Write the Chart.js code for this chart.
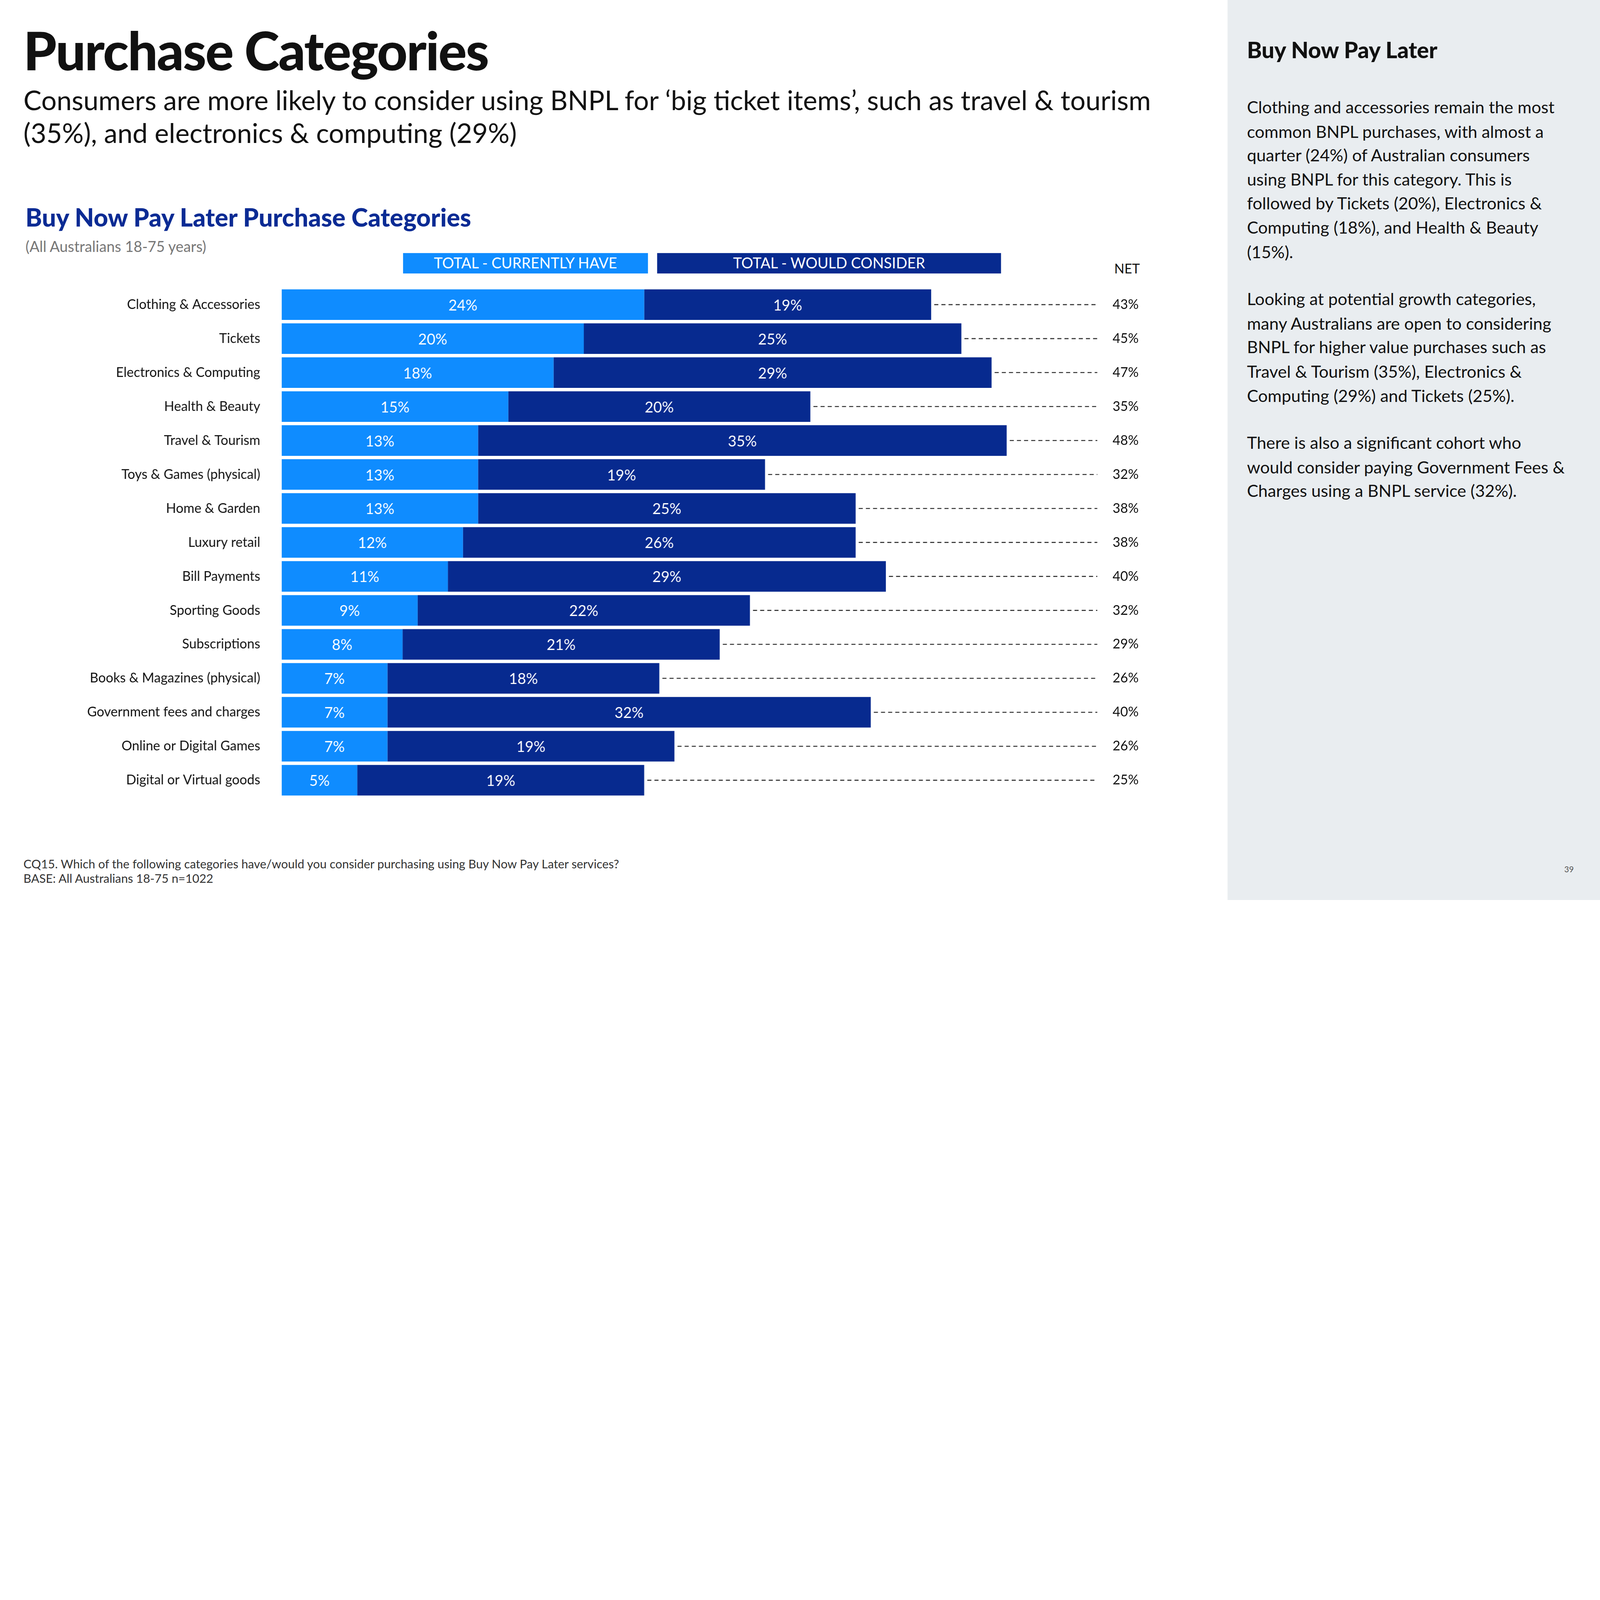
<!DOCTYPE html>
<html><head><meta charset="utf-8">
<script src="https://cdn.jsdelivr.net/npm/chart.js@4/dist/chart.umd.min.js"></script>
<style>
html,body{margin:0;padding:0;background:#fff;overflow:hidden;}
#page{position:absolute;left:0;top:0;width:1568px;height:882px;transform-origin:0 0;font-family:Lato,"Noto Sans",sans-serif;color:#111;}
.abs{position:absolute;white-space:nowrap;}
#side{position:absolute;left:1203px;top:0;width:365px;height:882px;background:#e9edf0;}
#side p{margin:0 0 23px 0;font-size:16.6px;line-height:23.6px;color:#111;}
.leg{position:absolute;height:20px;color:#fff;font-size:14.5px;line-height:20px;text-align:center;}
#wrap{position:absolute;left:0;}
</style></head><body>
<div id="page">
  <div class="abs" style="left:23px;top:18px;font-size:52px;font-weight:900;letter-spacing:-1px;">Purchase Categories</div>
  <div class="abs" style="left:23px;top:83px;font-size:26.5px;line-height:31.5px;white-space:normal;width:1150px;">Consumers are more likely to consider using BNPL for ‘big ticket items’, such as travel &amp; tourism (35%), and electronics &amp; computing (29%)</div>
  <div class="abs" style="left:25px;top:198px;font-size:24.5px;font-weight:900;color:#0b2b94;">Buy Now Pay Later Purchase Categories</div>
  <div class="abs" style="left:25px;top:233px;font-size:14.5px;color:#777;">(All Australians 18-75 years)</div>
  <div class="leg" style="left:395px;top:248px;width:240px;background:#0f8cff;">TOTAL - CURRENTLY HAVE</div>
  <div class="leg" style="left:644px;top:248px;width:337px;background:#072a8f;">TOTAL - WOULD CONSIDER</div>
  <div class="abs" style="left:1092px;top:255px;font-size:13px;">NET</div>
  <div class="abs" style="left:23px;top:840px;font-size:11.8px;line-height:14px;color:#333;">CQ15. Which of the following categories have/would you consider purchasing using Buy Now Pay Later services?<br>BASE: All Australians 18-75 n=1022</div>
  <div id="side">
    <div class="abs" style="left:19px;top:35px;font-size:22px;font-weight:900;">Buy Now Pay Later</div>
    <div style="position:absolute;left:19px;top:94px;width:312px;">
      <p>Clothing and accessories remain the most common BNPL purchases, with almost a quarter (24%) of Australian consumers using BNPL for this category. This is followed by Tickets (20%), Electronics &amp; Computing (18%), and Health &amp; Beauty (15%).</p>
      <p>Looking at potential growth categories, many Australians are open to considering BNPL for higher value purchases such as Travel &amp; Tourism (35%), Electronics &amp; Computing (29%) and Tickets (25%).</p>
      <p>There is also a significant cohort who would consider paying Government Fees &amp; Charges using a BNPL service (32%).</p>
    </div>
    <div class="abs" style="left:330px;top:847px;font-size:8px;color:#555;">39</div>
  </div>
</div>
<div id="wrap"><canvas id="c"></canvas></div>
<script>
const categories = ["Clothing & Accessories","Tickets","Electronics & Computing","Health & Beauty","Travel & Tourism","Toys & Games (physical)","Home & Garden","Luxury retail","Bill Payments","Sporting Goods","Subscriptions","Books & Magazines (physical)","Government fees and charges","Online or Digital Games","Digital or Virtual goods"];
const currentlyHave = [24,20,18,15,13,13,13,12,11,9,8,7,7,7,5];
const wouldConsider = [19,25,29,20,35,19,25,26,29,22,21,18,32,19,19];
const netValues = [43,45,47,35,48,32,38,38,40,32,29,26,40,26,25];

const s = window.innerWidth / 1568;
document.getElementById("page").style.transform = "scale(" + s + ")";
const wrap = document.getElementById("wrap");
// the chart leaves ~26px above and below the bars, so the box is made taller
wrap.style.top = 256 * s + "px";
wrap.style.width = 1130 * s + "px";
wrap.style.height = 551 * s + "px";

const labelsPlugin = {
  id: "labels",
  afterDatasetsDraw(chart) {
    const { ctx, chartArea } = chart;
    ctx.save();
    ctx.font = 14.5 * s + "px Lato, sans-serif";
    ctx.fillStyle = "#fff";
    ctx.textAlign = "center";
    ctx.textBaseline = "middle";
    chart.data.datasets.forEach((ds, di) => {
      chart.getDatasetMeta(di).data.forEach((bar, i) => {
        ctx.fillText(ds.data[i] + "%", (bar.base + bar.x) / 2, bar.y + s);
      });
    });
    chart.getDatasetMeta(1).data.forEach((bar, i) => {
      ctx.strokeStyle = "#333";
      ctx.lineWidth = s;
      ctx.setLineDash([4 * s, 3 * s]);
      ctx.beginPath();
      ctx.moveTo(bar.x + 3 * s, bar.y);
      ctx.lineTo(chartArea.right, bar.y);
      ctx.stroke();
      ctx.setLineDash([]);
      ctx.fillStyle = "#111";
      ctx.font = 13 * s + "px Lato, sans-serif";
      ctx.textAlign = "left";
      ctx.fillText(netValues[i] + "%", chartArea.right + 15 * s, bar.y);
    });
    ctx.restore();
  }
};

new Chart(document.getElementById("c"), {
  type: "bar",
  data: {
    labels: categories,
    datasets: [
      { label: "TOTAL - CURRENTLY HAVE", data: currentlyHave, backgroundColor: "#0f8cff" },
      { label: "TOTAL - WOULD CONSIDER", data: wouldConsider, backgroundColor: "#072a8f" }
    ]
  },
  options: {
    indexAxis: "y",
    responsive: true,
    maintainAspectRatio: false,
    animation: false,
    datasets: { bar: { barPercentage: 0.9, categoryPercentage: 1 } },
    layout: { autoPadding: false, padding: { left: 0, right: 55 * s, top: 0, bottom: 0 } },
    plugins: { legend: { display: false }, tooltip: { enabled: false } },
    scales: {
      x: { stacked: true, min: 0, max: 54, display: false },
      y: {
        stacked: true,
        grid: { display: false },
        border: { display: false },
        ticks: { color: "#111", font: { size: 13 * s, family: "Lato, sans-serif" }, padding: 18 * s },
        afterFit: (sc) => { sc.width = 276 * s; }
      }
    }
  },
  plugins: [labelsPlugin]
});
</script>
</body></html>
